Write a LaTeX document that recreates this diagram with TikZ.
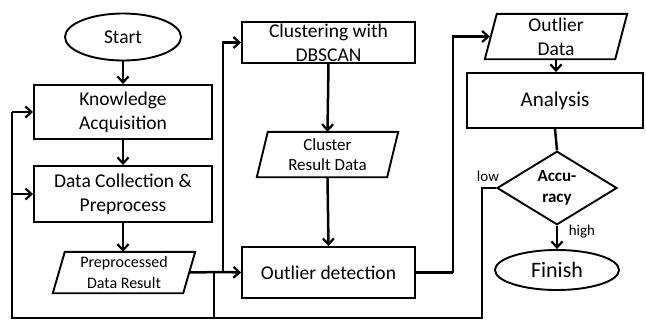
\documentclass[tikz,border=0pt]{standalone}
\usepackage{fontspec}
\setmainfont{Carlito}
\usetikzlibrary{arrows.meta,shapes.geometric}

\newcommand{\slantbox}[2]{%
  \draw[boxline] ([xshift=#2]#1.north west) -- ([xshift=#2]#1.north east)
    -- ([xshift=-#2]#1.south east) -- ([xshift=-#2]#1.south west) -- cycle;}

\begin{document}
\begin{tikzpicture}[x=1pt,y=-1pt,
  boxline/.style={line width=1.9pt},
  txt/.style={font=\fontsize{19.5}{24}\selectfont, align=center, inner sep=0pt},
  smalltxt/.style={font=\fontsize{16}{21}\selectfont, align=center, inner sep=0pt},
  procbox/.style={txt, draw, boxline, rectangle},
  databox/.style={smalltxt, rectangle},
  terminal/.style={txt, draw, boxline, ellipse, inner sep=0pt},
  decision/.style={draw, boxline, diamond, inner sep=0pt, align=center,
    font=\bfseries\fontsize{17}{21}\selectfont},
  link/.style={line width=2.5pt},
  flow/.style={link, -{Straight Barb[length=6pt,width=11pt,line width=2.2pt]}},
  note/.style={font=\fontsize{15}{18}\selectfont, inner sep=0pt}]

\useasboundingbox (0,0) rectangle (646,322);

% left column
\node[terminal, minimum width=116, minimum height=47] (start) at (123,37) {Start};
\node[procbox, minimum width=178, minimum height=54] (know) at (123,112) {Knowledge\\Acquisition};
\node[procbox, minimum width=178, minimum height=56] (coll) at (123,194) {Data Collection \&\\Preprocess};
\node[databox, minimum width=130, minimum height=41] (prep) at (124,272.5) {Preprocessed\\Data Result};
\slantbox{prep}{6}

% middle column
\node[procbox, minimum width=173, minimum height=41] (clus) at (328.5,42.5) {Clustering with\\DBSCAN};
\node[databox, font=\fontsize{17}{20}\selectfont, minimum width=130, minimum height=45] (cres) at (327.5,154.5) {Cluster\\Result Data};
\slantbox{cres}{5.5}
\node[procbox, minimum width=173, minimum height=51] (detect) at (328.5,272.5) {Outlier detection};

% right column
\node[txt, minimum width=130, minimum height=45] (odata) at (556,36.5) {Outlier\\Data};
\slantbox{odata}{6}
\node[procbox, font=\fontsize{21}{24}\selectfont, minimum width=176, minimum height=55] (anal) at (555,100.5) {Analysis};
\node[decision, minimum width=120, minimum height=72] (acc) at (557,188) {Accu-\\racy};
\node[terminal, font=\fontsize{22}{24}\selectfont, minimum width=124, minimum height=40] (fin) at (557,270) {Finish};

% junction points of the routing
\coordinate (split) at (223,272);
\coordinate (tap) at (214,272);
\coordinate (tapdown) at (214,318);
\coordinate (lowturn) at (482,188);
\coordinate (lowdown) at (482,318);
\coordinate (leftdown) at (12,318);
\coordinate (leftup) at (12,112);
\coordinate (leftmid) at (12,194);
\coordinate (rise) at (453,272.5);

% main flow
\draw[flow] (start) -- (know);
\draw[flow] (know) -- (coll);
\draw[flow] (coll) -- (prep.north -| coll);
\draw[link] (prep.east) -- (split);
\draw[flow] (split) |- (clus.west);
\draw[flow] (split) -- (detect.west);
\draw[link] (tap) -- (tapdown);
\draw[flow] (clus.south) -- (cres.north);
\draw[flow] (cres.south) -- (detect.north);
\draw[link] (detect.east) -- (rise);
\draw[flow] (rise) |- ([xshift=-1pt]odata.west);
\draw[flow] (odata.south) -- (anal.north -| odata.south);
\draw[link] (anal.south) -- (acc.north);
\draw[flow] (acc.south) -- (fin.north);

% feedback loop for low accuracy
\draw[link] (acc.west) -- (lowturn) -- (lowdown) -- (leftdown) -- (leftup);
\draw[flow] (leftup) -- (know.west);
\draw[flow] (leftmid) -- (coll.west);

\node[note] (low) at (488,176) {low};
\node[note] (high) at (582,232) {high};
\end{tikzpicture}
\end{document}
